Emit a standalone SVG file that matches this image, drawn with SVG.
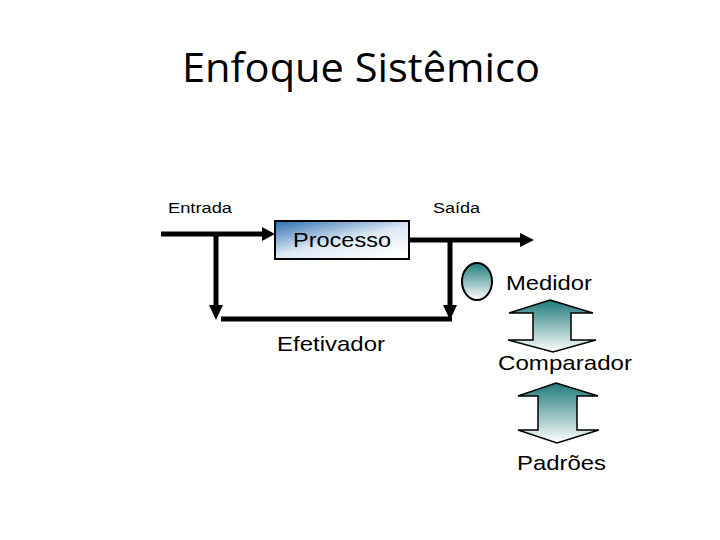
<svg xmlns="http://www.w3.org/2000/svg" width="720" height="540" viewBox="0 0 720 540">
<defs>
<style>
.t{font-family:"Liberation Sans",Arial,sans-serif;fill:#000}
.ln{stroke:#000;stroke-width:5;fill:none}
.ah{fill:#000}
.dbl{fill:url(#teal);stroke:#000;stroke-width:1.5;stroke-linejoin:miter}
</style>
<linearGradient id="blue" x1="0" y1="0" x2="0.8" y2="1">
<stop offset="0" stop-color="#2a6eb0"/>
<stop offset="0.55" stop-color="#dbe8f4"/>
<stop offset="1" stop-color="#ffffff"/>
</linearGradient>
<linearGradient id="teal" x1="0" y1="0" x2="0" y2="1">
<stop offset="0" stop-color="#1f7a7a"/>
<stop offset="1" stop-color="#ffffff"/>
</linearGradient>
</defs>
<rect width="720" height="540" fill="#fff"/>
<text x="361" y="82" text-anchor="middle" font-family="'Open Sans',sans-serif" font-size="40" textLength="358" lengthAdjust="spacingAndGlyphs">Enfoque Sistêmico</text>
<text class="t" x="168" y="213" font-size="15.5" textLength="64" lengthAdjust="spacingAndGlyphs">Entrada</text>
<text class="t" x="433" y="213" font-size="15.5" textLength="47" lengthAdjust="spacingAndGlyphs">Saída</text>
<g id="connectors">
<line class="ln" x1="161" y1="234" x2="263" y2="234"/>
<polygon class="ah" points="262,227 275,234 262,241"/>
<line class="ln" x1="409" y1="240" x2="521" y2="240"/>
<polygon class="ah" points="520,233 534,240 520,247"/>
<line class="ln" x1="216" y1="234" x2="216" y2="306"/>
<polygon class="ah" points="209,305 223,305 216,320"/>
<line class="ln" x1="450" y1="240" x2="450" y2="306"/>
<polygon class="ah" points="443,305 457,305 450,320"/>
<line class="ln" x1="221" y1="319" x2="452" y2="319"/>
</g>
<g id="processo">
<rect x="275" y="221" width="134" height="38" fill="url(#blue)" stroke="#000" stroke-width="2"/>
<text class="t" x="293" y="247" font-size="21" textLength="98" lengthAdjust="spacingAndGlyphs">Processo</text>
</g>
<g id="efetivador">
<text class="t" x="277" y="351" font-size="21" textLength="108" lengthAdjust="spacingAndGlyphs">Efetivador</text>
</g>
<g id="medidor">
<ellipse cx="477" cy="281.5" rx="15" ry="18.5" fill="url(#teal)" stroke="#000" stroke-width="2"/>
<text class="t" x="506" y="290" font-size="21" textLength="86" lengthAdjust="spacingAndGlyphs">Medidor</text>
</g>
<g id="seta1">
<polygon class="dbl" points="550,300 593,313 571,313 571,340 596,340 553,352 508,340 533,340 533,313 509,313"/>
</g>
<g id="comparador">
<text class="t" x="498" y="370" font-size="21" textLength="134" lengthAdjust="spacingAndGlyphs">Comparador</text>
</g>
<g id="seta2">
<polygon class="dbl" points="556,383 598,396 577,396 577,430 599,430 557,443 518,430 538,430 538,396 518,396"/>
</g>
<g id="padroes">
<text class="t" x="517" y="470" font-size="21" textLength="89" lengthAdjust="spacingAndGlyphs">Padrões</text>
</g>
</svg>
